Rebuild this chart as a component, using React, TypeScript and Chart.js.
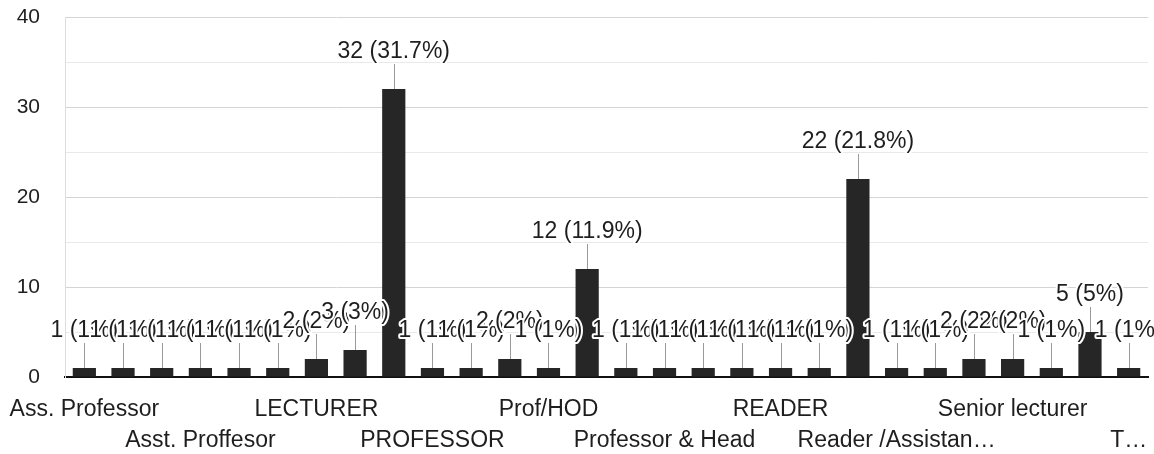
import React, { useEffect, useRef } from "react";
import { Chart, registerables } from "chart.js";

Chart.register(...registerables);

const categories: string[] = [
  "Ass. Professor",
  "Asso. Professor",
  "Associate Professor",
  "Asst. Proffesor",
  "Asst. Professor",
  "Head of Department",
  "LECTURER",
  "Lecturer",
  "PROFESSOR",
  "PROFESSOR & HEAD",
  "Principal",
  "Prof",
  "Prof/HOD",
  "Professor",
  "Professor & Dean",
  "Professor & Head",
  "Professor and Head",
  "Professor, HOD",
  "READER",
  "READER & HEAD",
  "Reader",
  "Reader /Assistant Professor",
  "Research Scholar",
  "SENIOR LECTURER",
  "Senior lecturer",
  "Senior Lecturer ",
  "Sr. Lecturer",
  "Teacher",
];

const values: number[] = [
  1, 1, 1, 1, 1, 1, 2, 3, 32, 1, 1, 2, 1, 12, 1, 1, 1, 1, 1, 1, 22, 1, 1, 2, 2, 1, 5, 1,
];

// Tick labels as displayed (Google shows every third, alternating rows, truncated)
const xTickLabels: string[] = [
  "Ass. Professor", "", "",
  "Asst. Proffesor", "", "",
  "LECTURER", "", "",
  "PROFESSOR", "", "",
  "Prof/HOD", "", "",
  "Professor & Head", "", "",
  "READER", "", "",
  "Reader /Assistan…", "", "",
  "Senior lecturer", "", "",
  "T…",
];

const yTickValues: number[] = [0, 10, 20, 30, 40];

const FONT = "Arial, 'Liberation Sans', sans-serif";

function fmtPct(v: number, total: number): string {
  let s = ((v / total) * 100).toFixed(1);
  if (s.endsWith(".0")) s = s.slice(0, -2);
  return s + "%";
}

const labelPlugin = {
  id: "barValueLabels",
  afterDatasetsDraw(chart: any) {
    const ctx = chart.ctx;
    const meta = chart.getDatasetMeta(0);
    const data = chart.data.datasets[0].data as number[];
    const total = data.reduce((a: number, b: number) => a + b, 0);
    ctx.save();
    ctx.font = `23px ${FONT}`;
    ctx.textAlign = "center";
    ctx.textBaseline = "alphabetic";
    meta.data.forEach((el: any, i: number) => {
      const v = data[i];
      const text = `${v} (${fmtPct(v, total)})`;
      const x = el.x;
      const top = el.y;
      const baseline = top - 31;
      // leader line
      ctx.strokeStyle = "#9a9a9a";
      ctx.lineWidth = 1;
      ctx.beginPath();
      ctx.moveTo(Math.round(x) + 0.5, baseline + 6);
      ctx.lineTo(Math.round(x) + 0.5, top);
      ctx.stroke();
      // halo + text
      ctx.lineJoin = "round";
      ctx.strokeStyle = "#ffffff";
      ctx.lineWidth = 4;
      ctx.strokeText(text, x, baseline);
      ctx.fillStyle = "#1e1e1e";
      ctx.fillText(text, x, baseline);
    });
    ctx.restore();
  },
};

export default function App() {
  const canvasRef = useRef<HTMLCanvasElement | null>(null);

  useEffect(() => {
    document.body.style.margin = "0";
    const canvas = canvasRef.current;
    if (!canvas) return;
    const chart = new Chart(canvas, {
      type: "bar",
      data: {
        labels: categories,
        datasets: [
          {
            data: values,
            backgroundColor: "#262626",
            borderWidth: 0,
            barPercentage: 0.6,
            categoryPercentage: 1,
          },
        ],
      },
      options: {
        animation: false,
        responsive: true,
        maintainAspectRatio: false,
        layout: { padding: { top: 0, right: 6, bottom: 0, left: 0 } },
        plugins: {
          legend: { display: false },
          tooltip: { enabled: false },
        },
        scales: {
          x: {
            offset: true,
            grid: { display: false, drawTicks: false },
            border: { color: "#111111", width: 2 },
            afterFit(scale: any) {
              scale.height = 77;
              scale.paddingLeft = 0;
              scale.paddingRight = 0;
            },
            ticks: {
              autoSkip: false,
              maxRotation: 0,
              minRotation: 0,
              padding: 17,
              color: "#1e1e1e",
              font: { family: FONT, size: 23, lineHeight: 1.35 },
              callback: (_v: any, i: number) => {
                const lbl = xTickLabels[i];
                if (!lbl) return "";
                return (i / 3) % 2 === 0 ? lbl : ["", lbl];
              },
            },
          },
          y: {
            min: 0,
            max: 40,
            afterFit(scale: any) {
              scale.width = 65;
              scale.paddingTop = 17;
              scale.paddingBottom = 0;
            },
            afterBuildTicks(scale: any) {
              const t: any[] = [];
              for (let v = 0; v <= 40; v += 5) t.push({ value: v });
              scale.ticks = t;
            },
            grid: {
              drawTicks: false,
              color: (c: any) => {
                const v = c.tick ? c.tick.value : 0;
                if (v === 0) return "rgba(0,0,0,0)";
                return v % 10 === 0 ? "#d4d4d4" : "#e9e9e9";
              },
            },
            border: { color: "#dddddd", width: 1 },
            ticks: {
              padding: 25,
              color: "#1e1e1e",
              font: { family: FONT, size: 21 },
              callback: (v: any) => (yTickValues.includes(Number(v)) ? String(v) : ""),
            },
          },
        },
      },
      plugins: [labelPlugin],
    });
    return () => chart.destroy();
  }, []);

  return (
    <div style={{ width: 1154, height: 454, position: "relative" }}>
      <canvas ref={canvasRef} />
    </div>
  );
}
